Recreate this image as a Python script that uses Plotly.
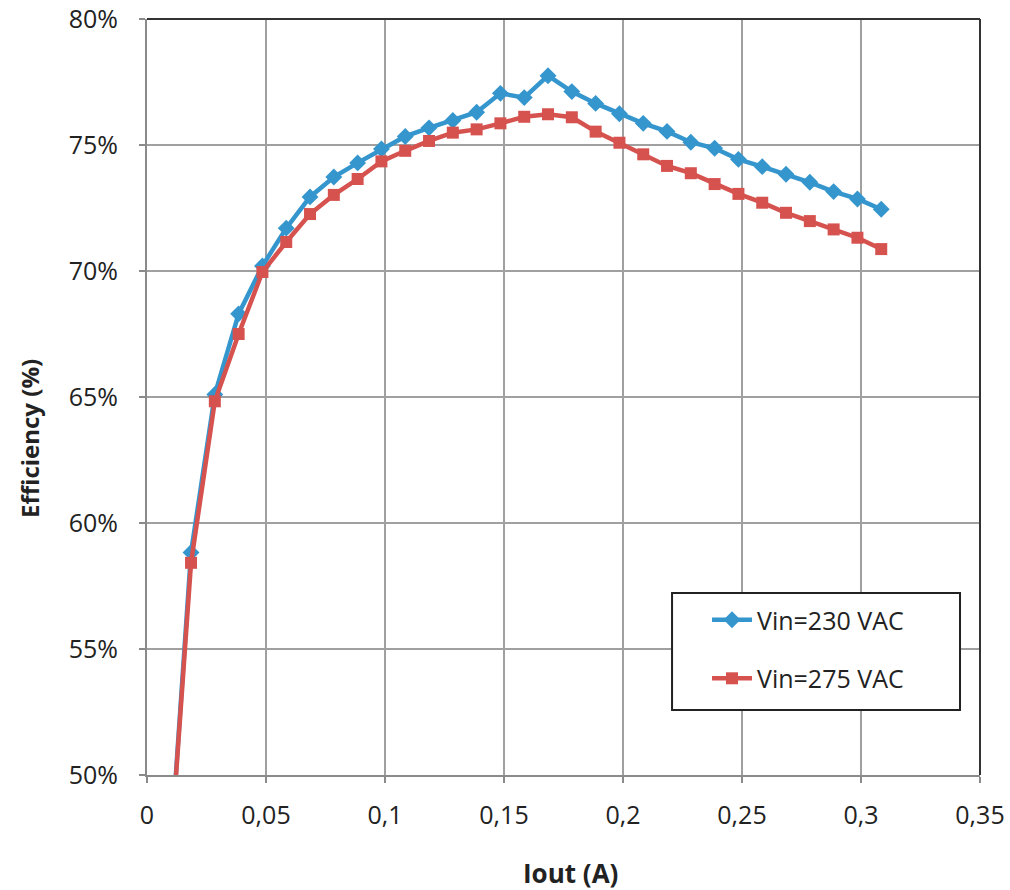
import plotly.graph_objects as go

iout = [0.009, 0.0185, 0.0285, 0.0385, 0.0485, 0.0585, 0.0685, 0.0785, 0.0885, 0.0985,
        0.1085, 0.1185, 0.1285, 0.1385, 0.1485, 0.1585, 0.1685, 0.1785, 0.1885, 0.1985,
        0.2085, 0.2185, 0.2285, 0.2385, 0.2485, 0.2585, 0.2685, 0.2785, 0.2885, 0.2985, 0.3085]

eff_230 = [45.7, 58.83, 65.1, 68.3, 70.2, 71.7, 72.94, 73.73, 74.29, 74.84,
           75.34, 75.68, 75.97, 76.3, 77.05, 76.88, 77.75, 77.12, 76.65, 76.24,
           75.86, 75.54, 75.11, 74.87, 74.43, 74.14, 73.84, 73.52, 73.15, 72.86, 72.45]

eff_275 = [45.7, 58.42, 64.83, 67.5, 69.96, 71.15, 72.26, 73.02, 73.65, 74.35,
           74.77, 75.16, 75.49, 75.62, 75.86, 76.12, 76.22, 76.1, 75.53, 75.09,
           74.63, 74.17, 73.88, 73.45, 73.06, 72.71, 72.31, 71.98, 71.65, 71.32, 70.87]

x_ticks = [0, 0.05, 0.1, 0.15, 0.2, 0.25, 0.3, 0.35]
y_ticks = [50, 55, 60, 65, 70, 75, 80]
y_ticklabels = [f"{v}%" for v in y_ticks]

x_title = "Iout (A)"
y_title = "Efficiency (%)"

blue = "#3596CE"
red = "#D6524F"
font = "Open Sans, Noto Sans, sans-serif"
txt = "#222222"

fig = go.Figure()
fig.add_trace(go.Scatter(
    x=iout, y=eff_230, mode="lines+markers", name="Vin=230 VAC",
    line=dict(color=blue, width=4.5),
    marker=dict(symbol="diamond", size=13, color=blue),
    legendgroup="a",
))
fig.add_trace(go.Scatter(
    x=iout, y=eff_275, mode="lines+markers", name="Vin=275 VAC",
    line=dict(color=red, width=4.5),
    marker=dict(symbol="square", size=12, color=red),
    legendgroup="b",
))

# dark plot-area frame on top and right
fig.add_shape(type="line", xref="paper", yref="paper", x0=0, x1=1, y0=1, y1=1,
              line=dict(color="#333333", width=2))
fig.add_shape(type="line", xref="paper", yref="paper", x0=1, x1=1, y0=0, y1=1,
              line=dict(color="#333333", width=2))
# legend frame
fig.add_shape(type="rect", xref="paper", yref="paper", x0=0.6303, x1=0.976,
              y0=0.086, y1=0.2407, layer="above",
              line=dict(color="#222222", width=2), fillcolor="white")

# axis titles (centred like the original chart)
fig.add_annotation(text=f"<b>{x_title}</b>", xref="paper", yref="paper",
                   x=0.509, y=-0.1296, xanchor="center", yanchor="middle",
                   showarrow=False, font=dict(size=26, family=font, color=txt))
fig.add_annotation(text=f"<b>{y_title}</b>", xref="paper", yref="paper",
                   x=-0.1405, y=0.4458, xanchor="center", yanchor="middle",
                   textangle=-90, showarrow=False,
                   font=dict(size=24, family=font, color=txt))

fig.update_layout(
    width=1010, height=890,
    margin=dict(l=147, r=30, t=19, b=115),
    paper_bgcolor="white", plot_bgcolor="white",
    separators=",.",
    font=dict(family=font, size=25, color=txt),
    showlegend=True,
    legend=dict(
        x=0.6723, y=0.2354, xanchor="left", yanchor="top",
        borderwidth=0, bgcolor="rgba(0,0,0,0)",
        font=dict(size=25, color=txt),
        tracegroupgap=23, itemwidth=40,
    ),
)
fig.update_xaxes(
    range=[0, 0.35], tickvals=x_ticks,
    showgrid=True, gridcolor="#A0A0A0", gridwidth=2,
    showline=True, linecolor="#8A8A8A", linewidth=2,
    ticks="outside", ticklen=6, tickcolor="#8A8A8A", tickwidth=2,
    ticklabelstandoff=11, ticklabeloverflow="allow", automargin=False,
    zeroline=False,
)
fig.update_yaxes(
    range=[50, 80], tickvals=y_ticks, ticktext=y_ticklabels,
    showgrid=True, gridcolor="#A0A0A0", gridwidth=2,
    showline=True, linecolor="#8A8A8A", linewidth=2,
    ticks="outside", ticklen=6, tickcolor="#8A8A8A", tickwidth=2,
    ticklabelstandoff=16, ticklabeloverflow="allow", automargin=False,
    zeroline=False,
)

fig.write_html("out.html", config={"displayModeBar": False},
               post_script="document.body.style.margin='0';")
